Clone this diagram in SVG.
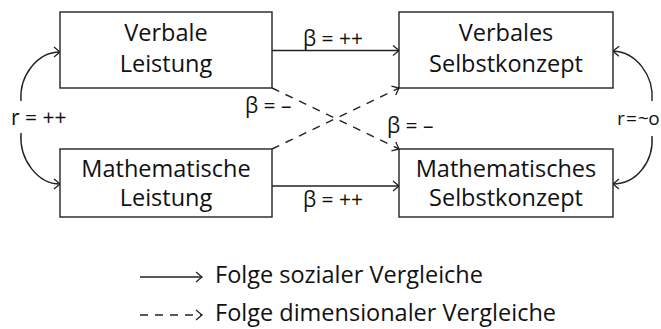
<svg xmlns="http://www.w3.org/2000/svg" width="661" height="329" viewBox="0 0 661 329">
<style>
.box{fill:#fff;stroke:#222;stroke-width:1.4}
.t{font-family:"Open Sans","Noto Sans",sans-serif;font-size:23.5px;fill:#111;text-anchor:middle}
.lbl{font-family:"Open Sans","Noto Sans",sans-serif;font-size:21px;fill:#111}
.leg{font-family:"Open Sans","Noto Sans",sans-serif;font-size:23.5px;fill:#111}
.c{fill:none;stroke:#222;stroke-width:1.4}
.d{stroke-dasharray:8 7}
</style>
<defs>
<marker id="ah" markerUnits="userSpaceOnUse" markerWidth="10" markerHeight="12" refX="7" refY="5" orient="auto" overflow="visible">
<path d="M1,0 L7,5 L1,10" fill="none" stroke="#222" stroke-width="1.3"/>
</marker>
</defs>
<rect width="661" height="329" fill="#fff"/>
<g id="connectors">
<line class="c" x1="272" y1="50.5" x2="399" y2="50.5" marker-end="url(#ah)"/>
<line class="c" x1="272" y1="186" x2="399" y2="186" marker-end="url(#ah)"/>
<line class="c d" x1="272" y1="88" x2="399" y2="149" marker-end="url(#ah)"/>
<line class="c d" x1="272" y1="149" x2="399" y2="88" marker-end="url(#ah)"/>
<path class="c" d="M21,101 C19,75 38,52 60,52" marker-end="url(#ah)"/>
<path class="c" d="M21,133 C19,160 38,184 60,184" marker-end="url(#ah)"/>
<path class="c" d="M652,101 C654,75 636,52 613,51" marker-end="url(#ah)"/>
<path class="c" d="M652,136 C654,162 636,184 613,184" marker-end="url(#ah)"/>
<text class="lbl" x="303" y="46">β = ++</text>
<text class="lbl" x="303" y="207">β = ++</text>
<text class="lbl" x="245" y="113">β = –</text>
<text class="lbl" x="387" y="133">β = –</text>
<text class="lbl" x="11" y="125">r = ++</text>
<text class="lbl" x="617" y="125" style="font-size:19px;word-spacing:-2.8px;letter-spacing:-0.5px">r = ~o</text>
</g>
<g id="verbale-leistung">
<rect class="box" x="60" y="12" width="212" height="76"/>
<text class="t" x="166" y="41">Verbale</text>
<text class="t" x="166" y="72">Leistung</text>
</g>
<g id="mathematische-leistung">
<rect class="box" x="60" y="149" width="212" height="68"/>
<text class="t" x="166" y="177">Mathematische</text>
<text class="t" x="166" y="206">Leistung</text>
</g>
<g id="verbales-selbstkonzept">
<rect class="box" x="399" y="12" width="214" height="76"/>
<text class="t" x="506" y="41">Verbales</text>
<text class="t" x="506" y="72">Selbstkonzept</text>
</g>
<g id="mathematisches-selbstkonzept">
<rect class="box" x="399" y="149" width="214" height="68"/>
<text class="t" x="506" y="177">Mathematisches</text>
<text class="t" x="506" y="206">Selbstkonzept</text>
</g>
<g id="legend">
<line class="c" x1="140" y1="277" x2="202" y2="277" marker-end="url(#ah)"/>
<line class="c d" x1="140" y1="315" x2="202" y2="315" marker-end="url(#ah)"/>
<text class="leg" x="215" y="283">Folge sozialer Vergleiche</text>
<text class="leg" x="215" y="321">Folge dimensionaler Vergleiche</text>
</g>
</svg>
